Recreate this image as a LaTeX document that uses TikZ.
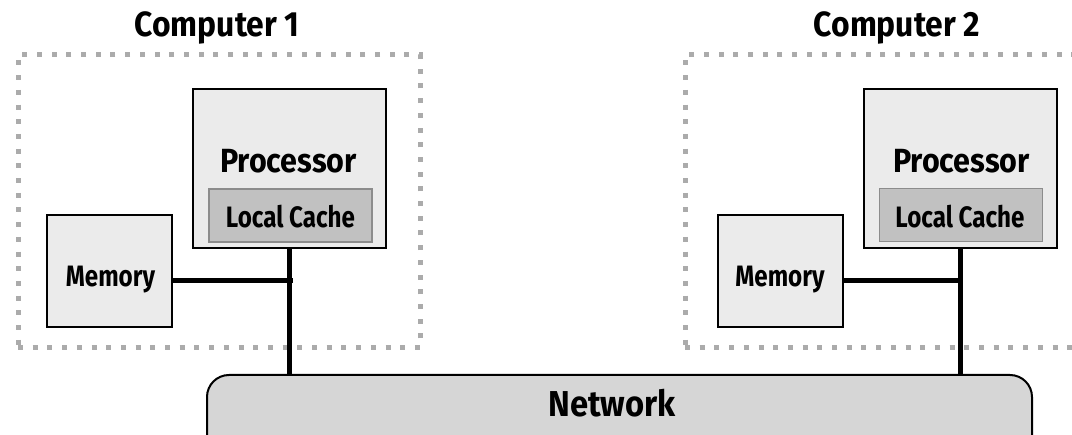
\documentclass[tikz,border=0pt]{standalone}
\usepackage{fontspec}
\setmainfont{Fira Sans}[FakeStretch=0.91]
\newfontfamily\narrowfont{Fira Sans}[FakeStretch=0.82]
\definecolor{boxgray}{HTML}{EBEBEB}
\definecolor{cachegray}{HTML}{C1C1C1}
\definecolor{cacheline}{HTML}{8C8C8C}
\definecolor{netgray}{HTML}{D6D6D6}
\definecolor{dotgray}{HTML}{ABABAB}
\begin{document}
\begin{tikzpicture}[x=1pt,y=-1pt,
  box/.style={draw=black, line width=2pt, fill=boxgray, inner sep=0pt, outer sep=0pt},
  cachebox/.style={draw=cacheline, line width=1.8pt, fill=cachegray, inner sep=0pt, outer sep=0pt,
    minimum width=163pt, minimum height=53pt},
  procbox/.style={box, minimum width=193pt, minimum height=159pt},
  membox/.style={box, minimum width=125pt, minimum height=112pt},
  compbox/.style={draw=dotgray, line width=5pt, dash pattern=on 5pt off 9.7pt,
    minimum width=402pt, minimum height=293pt, inner sep=0pt, outer sep=0pt},
  netbox/.style={draw=black, line width=2pt, fill=netgray, rounded corners=22pt,
    minimum width=825pt, minimum height=110pt, inner sep=0pt, outer sep=0pt},
  wire/.style={draw=black, line width=5pt},
  titletxt/.style={font=\bfseries\fontsize{35}{37}\selectfont, anchor=base, inner sep=0pt},
  nettxt/.style={font=\bfseries\fontsize{36}{38}\selectfont, anchor=base, inner sep=0pt},
  midtxt/.style={font=\bfseries\fontsize{33.5}{35}\selectfont, anchor=base, inner sep=0pt},
  smalltxt/.style={font=\narrowfont\bfseries\fontsize{29.5}{31}\selectfont, anchor=base, inner sep=0pt}
]
\clip (0,0) rectangle (1072,435);
\fill[white] (0,0) rectangle (1072,435);

% computer frames
\node[compbox] (comp1) at (219,201.5) {};
\node[compbox] (comp2) at (886,201.5) {};
\node[titletxt] (comp1t) at (217,37) {Computer 1};
\node[titletxt] (comp2t) at (897,37) {Computer 2};

% network
\node[netbox, anchor=north] (net) at (619.5,375) {};
\node[nettxt] (nett) at (612,417) {Network};

% computer 1
\node[procbox] (proc1) at (289.5,168.5) {};
\node[midtxt] (proc1t) at (288.5,173) {Processor};
\node[cachebox] (cache1) at (290.5,215.5) {};
\node[smalltxt] (cache1t) at (290.5,228) {Local Cache};
\node[membox] (mem1) at (109.5,271) {};
\node[smalltxt] (mem1t) at (110.5,287) {Memory};

% computer 2
\node[procbox] (proc2) at (960,169) {};
\node[midtxt] (proc2t) at (961.5,173) {Processor};
\node[cachebox] (cache2) at (961,215) {};
\node[smalltxt] (cache2t) at (960,228) {Local Cache};
\node[membox] (mem2) at (780,271.5) {};
\node[smalltxt] (mem2t) at (780,287) {Memory};

% connectors
\coordinate (j1) at (293,281);
\coordinate (j2) at (963,281);
\draw[wire] (proc1.south) -- (proc1.south |- net.north);
\draw[wire] (mem1.east |- j1) -- (j1);
\draw[wire] (proc2.south) -- (proc2.south |- net.north);
\draw[wire] (mem2.east |- j2) -- (j2);
\end{tikzpicture}
\end{document}
